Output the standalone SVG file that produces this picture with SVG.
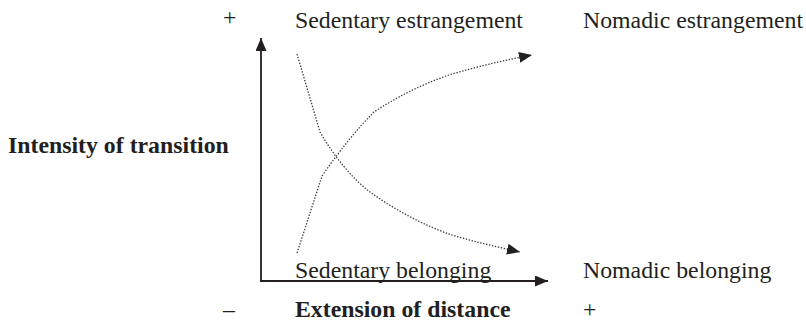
<svg xmlns="http://www.w3.org/2000/svg" width="806" height="321" viewBox="0 0 806 321">
  <defs>
    <style>
      .t { font-family: "Liberation Serif", "Times New Roman", serif; font-size: 23.8px; fill: #231f20; }
      .b { font-weight: bold; }
      .axis { fill: none; stroke: #231f20; stroke-width: 1.8; }
      .curve { fill: none; stroke: #3a3a3a; stroke-width: 1.3; stroke-dasharray: 1.4 1.6; }
    </style>
    <marker id="ah" markerUnits="userSpaceOnUse" markerWidth="14" markerHeight="12" refX="13" refY="5.5" orient="auto">
      <path d="M0,0 L13,5.5 L0,11 z" fill="#231f20"/>
    </marker>
  </defs>
  <rect width="806" height="321" fill="#ffffff"/>

  <g id="labels">
    <text class="t" x="223" y="25">+</text>
    <text class="t b" x="8" y="153">Intensity of transition</text>
    <text class="t" x="223" y="317">–</text>
    <text class="t b" x="295" y="317">Extension of distance</text>
    <text class="t" x="583" y="317">+</text>
  </g>

  <g id="node-sedentary-estrangement"><text class="t" x="295" y="28">Sedentary estrangement</text></g>
  <g id="node-nomadic-estrangement"><text class="t" x="583" y="28">Nomadic estrangement</text></g>
  <g id="node-sedentary-belonging"><text class="t" x="295" y="277.5">Sedentary belonging</text></g>
  <g id="node-nomadic-belonging"><text class="t" x="583" y="277.5">Nomadic belonging</text></g>

  <g id="connectors">
    <path class="axis" d="M261,281 L261,38" marker-end="url(#ah)"/>
    <path class="axis" d="M260,281 L548,281" marker-end="url(#ah)"/>
    <path class="curve" d="M297,54 L320,132 C335,158 352,178 370,192 C395,210 425,226 452,235 C475,242 498,247 520,252" marker-end="url(#ah)"/>
    <path class="curve" d="M297,253 L322,176 C340,150 358,128 374,112 C400,95 425,83 452,74 C480,66 505,60 532,55" marker-end="url(#ah)"/>
  </g>
</svg>
